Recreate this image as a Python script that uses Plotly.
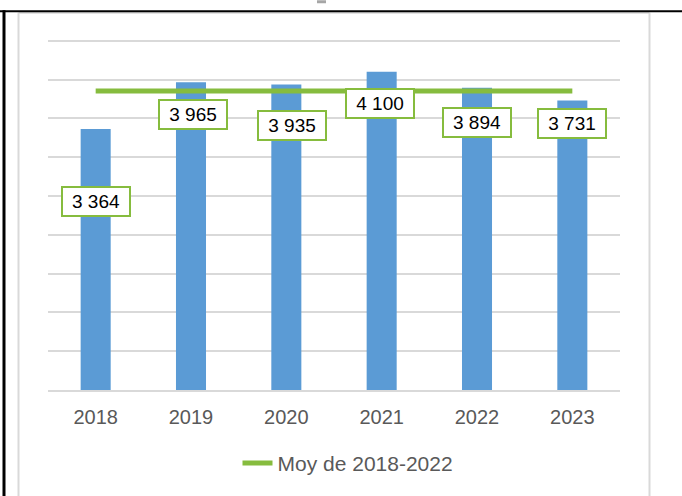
import plotly.graph_objects as go

# ---- data ----
years = ["2018", "2019", "2020", "2021", "2022", "2023"]
values = [3364, 3965, 3935, 4100, 3894, 3731]
avg_values = [3852, 3852, 3852, 3852, 3852, 3852]
value_labels = ["3 364", "3 965", "3 935", "4 100", "3 894", "3 731"]
avg_name = "Moy de 2018-2022"

# ---- style ----
BAR = "#5B9BD5"
GREEN = "#86BC3E"
GRID = "#D9D9D9"
TXT = "#595959"
FONT = "Liberation Sans, Arial, sans-serif"
label_yshift = [-73, -32, -41, -32, -35, -23]
label_xshift = [0, 2, 6, -2, 0, 0]

W, H = 682, 496
YMAX = 4600
PX_PER_UNIT = 352 / 4500
L, R, B = 48, 620, 393
T = round(B - YMAX * PX_PER_UNIT)


def xp(px):
    return (px - L) / (R - L)


def yp(py):
    return (B - py) / (B - T)


fig = go.Figure()
fig.add_trace(go.Bar(x=years, y=values, marker=dict(color=BAR, line=dict(width=0)),
                     showlegend=False, name="Valeurs"))
fig.add_trace(go.Scatter(x=years, y=avg_values, mode="lines", name=avg_name,
                         line=dict(color=GREEN, width=5)))

for i, (v, lab) in enumerate(zip(values, value_labels)):
    # category axis: annotation x given as the category index
    fig.add_annotation(x=i, y=v, text=lab, showarrow=False,
                       xanchor="center", yanchor="middle",
                       xshift=label_xshift[i], yshift=label_yshift[i],
                       font=dict(family=FONT, size=19, color="#000000"),
                       bgcolor="white", bordercolor=GREEN, borderwidth=2,
                       borderpad=2, width=62, height=23)

shapes = [
    # outer grey chart border
    dict(type="line", xref="paper", yref="paper", x0=xp(18.5), x1=xp(18.5), y0=yp(12.5), y1=yp(500),
         line=dict(color=GRID, width=2)),
    dict(type="line", xref="paper", yref="paper", x0=xp(649.5), x1=xp(649.5), y0=yp(12.5), y1=yp(500),
         line=dict(color=GRID, width=2)),
    dict(type="line", xref="paper", yref="paper", x0=xp(18.5), x1=xp(649.5), y0=yp(12.5), y1=yp(12.5),
         line=dict(color=GRID, width=2)),
    # black frame lines
    dict(type="line", xref="paper", yref="paper", x0=xp(0), x1=xp(682), y0=yp(11), y1=yp(11),
         line=dict(color="#000000", width=2)),
    dict(type="line", xref="paper", yref="paper", x0=xp(4), x1=xp(4), y0=yp(10), y1=yp(500),
         line=dict(color="#000000", width=3)),
    dict(type="rect", xref="paper", yref="paper", x0=xp(317), x1=xp(326), y0=yp(0), y1=yp(3),
         line=dict(width=0), fillcolor="#A6A6A6"),
]

fig.update_layout(
    width=W, height=H,
    margin=dict(l=L, r=W - R, t=T, b=H - B, pad=0),
    paper_bgcolor="white", plot_bgcolor="white",
    bargap=0.685,
    font=dict(family=FONT, color=TXT),
    shapes=shapes,
    legend=dict(orientation="h", x=0.5 + 14 / (R - L), xanchor="center", y=yp(467), yanchor="middle",
                font=dict(family=FONT, size=21, color=TXT), bgcolor="rgba(0,0,0,0)"),
    xaxis=dict(type="category", categoryorder="array", categoryarray=years,
               range=[-0.5, len(years) - 0.5], autorange=False,
               showgrid=False, showline=True, linecolor=GRID, linewidth=1.5,
               ticks="", tickfont=dict(family=FONT, size=20, color=TXT), ticklabelstandoff=8,
               fixedrange=True),
    yaxis=dict(range=[0, YMAX], tickmode="array", tickvals=[0, 500, 1000, 1500, 2000, 2500, 3000, 3500, 4000, 4500],
               showgrid=True, gridcolor=GRID, gridwidth=1.5,
               showticklabels=False, zeroline=False, showline=False, fixedrange=True),
)

fig.write_html("out.html")
